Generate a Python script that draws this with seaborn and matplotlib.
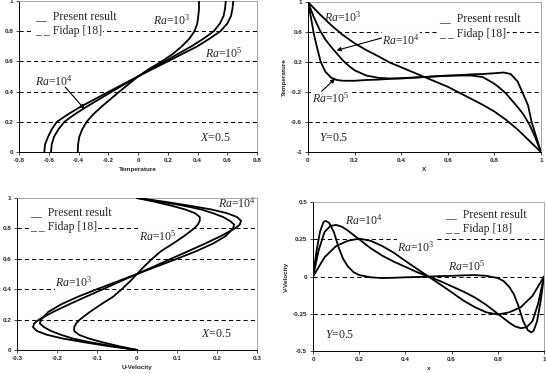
import matplotlib
matplotlib.use("Agg")
import matplotlib.pyplot as plt
import pandas as pd
import seaborn as sns

# ---- data ------------------------------------------------------------------
ra_names = ["Ra=1e3", "Ra=1e4", "Ra=1e5"]

# top left: temperature along Y at X=0.5
tl_y = [0, 0.05, 0.1, 0.15, 0.2, 0.25, 0.3, 0.35, 0.4, 0.45, 0.5,
        0.55, 0.6, 0.65, 0.7, 0.75, 0.8, 0.85, 0.9, 0.95, 1]
tl_inner = [-0.405, -0.403, -0.395, -0.375, -0.345, -0.3, -0.245, -0.185, -0.125, -0.062, 0,
            0.075, 0.16, 0.235, 0.295, 0.345, 0.38, 0.398, 0.405, 0.41, 0.41]
tl_middle = [-0.585, -0.58, -0.565, -0.535, -0.495, -0.425, -0.345, -0.26, -0.175, -0.088, 0,
             0.09, 0.18, 0.27, 0.36, 0.44, 0.51, 0.55, 0.575, 0.585, 0.59]
tl_outer = [-0.63, -0.625, -0.605, -0.58, -0.545, -0.47, -0.385, -0.29, -0.195, -0.098, 0,
            0.1, 0.2, 0.3, 0.4, 0.48, 0.555, 0.6, 0.625, 0.635, 0.64]

# top right: temperature along X at Y=0.5
tr_x3 = [0, 0.05, 0.1, 0.15, 0.2, 0.25, 0.3, 0.35, 0.4, 0.45, 0.5,
         0.55, 0.6, 0.65, 0.7, 0.75, 0.8, 0.85, 0.9, 0.95, 1]
tr_t3 = [1, 0.84, 0.69, 0.56, 0.45, 0.36, 0.28, 0.195, 0.13, 0.065, 0,
         -0.065, -0.13, -0.21, -0.29, -0.37, -0.46, -0.57, -0.7, -0.85, -1]
tr_x4 = [0, 0.025, 0.05, 0.075, 0.1, 0.125, 0.15, 0.175, 0.2, 0.25, 0.3, 0.35, 0.4, 0.45, 0.5,
         0.55, 0.6, 0.65, 0.7, 0.75, 0.8, 0.825, 0.85, 0.875, 0.9, 0.925, 0.95, 0.975, 1]
tr_t4 = [1, 0.8, 0.63, 0.5, 0.4, 0.31, 0.22, 0.15, 0.09, 0.02, -0.01, -0.02, -0.02, -0.01, 0,
         0.01, 0.02, 0.02, 0.02, 0.0, -0.09, -0.15, -0.22, -0.31, -0.4, -0.5, -0.63, -0.8, -1]
tr_x5 = [0, 0.0125, 0.025, 0.04, 0.055, 0.075, 0.1, 0.125, 0.15, 0.2, 0.25, 0.3, 0.35, 0.4, 0.45, 0.5,
         0.55, 0.6, 0.65, 0.7, 0.75, 0.8, 0.84, 0.87, 0.9, 0.92, 0.945, 0.96, 0.975, 0.99, 1]
tr_t5 = [1, 0.8, 0.58, 0.38, 0.2, 0.07, -0.01, -0.04, -0.05, -0.05, -0.04, -0.035, -0.025, -0.015, -0.008, 0,
         0.008, 0.015, 0.025, 0.035, 0.04, 0.05, 0.06, 0.04, -0.06, -0.2, -0.38, -0.6, -0.75, -0.9, -1]

# bottom left: U-velocity along Y at X=0.5
bl_y = [0, 0.025, 0.05, 0.075, 0.1, 0.125, 0.15, 0.175, 0.2, 0.25, 0.3, 0.35, 0.4, 0.45, 0.5,
        0.55, 0.6, 0.65, 0.7, 0.75, 0.8, 0.825, 0.85, 0.875, 0.9, 0.925, 0.95, 0.975, 1]
bl_u3 = [0, -0.06, -0.115, -0.16, -0.19, -0.215, -0.232, -0.243, -0.24, -0.222, -0.19, -0.148, -0.1, -0.05, 0,
         0.05, 0.1, 0.148, 0.19, 0.222, 0.24, 0.243, 0.232, 0.215, 0.19, 0.16, 0.115, 0.06, 0]
bl_u4 = [0, -0.07, -0.13, -0.185, -0.225, -0.25, -0.26, -0.257, -0.245, -0.21, -0.17, -0.128, -0.085, -0.043, 0,
         0.043, 0.085, 0.128, 0.17, 0.21, 0.245, 0.257, 0.26, 0.25, 0.225, 0.185, 0.13, 0.07, 0]
bl_u5 = [0, -0.045, -0.085, -0.12, -0.145, -0.157, -0.157, -0.152, -0.143, -0.118, -0.09, -0.06, -0.038, -0.018, 0,
         0.018, 0.038, 0.06, 0.09, 0.118, 0.143, 0.152, 0.157, 0.157, 0.145, 0.12, 0.085, 0.045, 0]

# bottom right: V-velocity along X at Y=0.5
br_x3 = [0, 0.05, 0.1, 0.15, 0.2, 0.25, 0.3, 0.35, 0.4, 0.45, 0.5,
         0.55, 0.6, 0.65, 0.7, 0.75, 0.8, 0.85, 0.9, 0.95, 1]
br_v3 = [0, 0.13, 0.205, 0.24, 0.255, 0.24, 0.205, 0.16, 0.105, 0.052, 0,
         -0.052, -0.105, -0.16, -0.205, -0.24, -0.255, -0.24, -0.205, -0.13, 0]
br_x4 = [0, 0.025, 0.05, 0.075, 0.1, 0.125, 0.15, 0.2, 0.25, 0.3, 0.35, 0.4, 0.45, 0.5,
         0.55, 0.6, 0.65, 0.7, 0.75, 0.8, 0.85, 0.875, 0.9, 0.925, 0.95, 0.975, 1]
br_v4 = [0, 0.18, 0.3, 0.34, 0.347, 0.335, 0.31, 0.25, 0.19, 0.14, 0.1, 0.065, 0.03, 0,
         -0.03, -0.065, -0.1, -0.14, -0.19, -0.25, -0.31, -0.335, -0.347, -0.34, -0.3, -0.18, 0]
br_x5 = [0, 0.015, 0.03, 0.045, 0.055, 0.07, 0.09, 0.11, 0.13, 0.15, 0.175, 0.2, 0.25, 0.3, 0.35, 0.4, 0.45, 0.5,
         0.55, 0.6, 0.65, 0.7, 0.75, 0.8, 0.825, 0.85, 0.87, 0.89, 0.91, 0.93, 0.945, 0.955, 0.97, 0.985, 1]
br_v5 = [0, 0.17, 0.3, 0.365, 0.375, 0.36, 0.3, 0.2, 0.12, 0.07, 0.03, 0.01, -0.005, -0.01, -0.008, -0.005, -0.003, 0,
         0.003, 0.005, 0.008, 0.01, 0.005, -0.01, -0.03, -0.07, -0.12, -0.2, -0.3, -0.36, -0.375, -0.365, -0.3, -0.17, 0]

# ticks
tl_xticks = [-0.8, -0.6, -0.4, -0.2, 0, 0.2, 0.4, 0.6, 0.8]
tl_xlabels = ["-0.8", "-0.6", "-0.4", "-0.2", "0", "0.2", "0.4", "0.6", "0.8"]
unit_ticks = [0, 0.2, 0.4, 0.6, 0.8, 1]
unit_labels = ["0", "0.2", "0.4", "0.6", "0.8", "1"]
tr_yticks = [-1, -0.6, -0.2, 0.2, 0.6, 1]
tr_ylabels = ["-1", "-0.6", "-0.2", "0.2", "0.6", "1"]
bl_xticks = [-0.3, -0.2, -0.1, 0, 0.1, 0.2, 0.3]
bl_xlabels = ["-0.3", "-0.2", "-0.1", "0", "0.1", "0.2", "0.3"]
br_yticks = [-0.5, -0.25, 0, 0.25, 0.5]
br_ylabels = ["-0.5", "-0.25", "0", "0.25", "0.5"]

sns.set_style("ticks")
plt.rcParams["font.family"] = ["Liberation Sans", "DejaVu Sans"]
plt.rcParams["mathtext.fontset"] = "custom"
plt.rcParams["mathtext.rm"] = "Liberation Serif"
plt.rcParams["mathtext.it"] = "Liberation Serif:italic"

SERIF = ["Liberation Serif", "DejaVu Serif"]


def long_frame(pos_list, val_list):
    rows = []
    for name, pos, val in zip(ra_names, pos_list, val_list):
        for p, v in zip(pos, val):
            rows.append({"pos": p, "val": v, "Ra": name})
    return pd.DataFrame(rows)


def style_axes(ax, xlim, ylim, xt, xl, yt, yl, grid_at, xlabel, ylabel):
    ax.set_xlim(*xlim)
    ax.set_ylim(*ylim)
    ax.set_xticks(xt, xl)
    ax.set_yticks(yt, yl)
    for lab in ax.get_xticklabels() + ax.get_yticklabels():
        lab.set_fontweight("bold")
        lab.set_fontsize(4.6)
    ax.tick_params(length=2.2, width=0.6, pad=2)
    for g in grid_at:
        ax.axhline(g, color="black", lw=0.75, ls=(0, (4, 3)), zorder=1)
    for side in ["left", "bottom"]:
        ax.spines[side].set_color("black")
        ax.spines[side].set_linewidth(0.7)
    for side in ["top", "right"]:
        ax.spines[side].set_visible(True)
        ax.spines[side].set_color("#999999")
        ax.spines[side].set_linewidth(0.6)
    ax.set_xlabel(xlabel, fontsize=4.6, fontweight="bold", labelpad=3)
    ax.set_ylabel(ylabel, fontsize=4.6, fontweight="bold", labelpad=3)


def put_legend(ax, fx, fy1, fy2):
    box = dict(facecolor="white", edgecolor="none", pad=0.5)
    ax.text(fx, fy1, "__  Present result", transform=ax.transAxes, family=SERIF,
            fontsize=8.5, va="center", ha="left", bbox=box, zorder=2.5)
    ax.text(fx, fy2, "_ _ Fidap [18]", transform=ax.transAxes, family=SERIF,
            fontsize=8.5, va="center", ha="left", bbox=box, zorder=2.5)


def label(ax, x, y, s):
    ax.text(x, y, s, family=SERIF, fontsize=8.5, ha="center", va="center", zorder=2.5,
            bbox=dict(facecolor="white", edgecolor="none", pad=0.3))


def arrow(ax, start, end):
    ax.annotate("", xy=end, xytext=start, zorder=4,
                arrowprops=dict(arrowstyle="-|>", color="black", lw=0.8, mutation_scale=6,
                                shrinkA=0, shrinkB=0))


def draw(ax, df, vertical):
    if vertical:
        sns.lineplot(data=df, x="val", y="pos", hue="Ra", palette=["black"] * 3, sort=False,
                     estimator=None, legend=False, lw=1.3, ax=ax, zorder=3)
    else:
        sns.lineplot(data=df, x="pos", y="val", hue="Ra", palette=["black"] * 3, sort=False,
                     estimator=None, legend=False, lw=1.3, ax=ax, zorder=3)


fig = plt.figure(figsize=(5.46, 3.74), dpi=100)
ax_tl = fig.add_axes([0.0348, 0.5936, 0.436, 0.404])
ax_tr = fig.add_axes([0.564, 0.5936, 0.4267, 0.401])
ax_bl = fig.add_axes([0.0311, 0.0642, 0.4396, 0.4064])
ax_br = fig.add_axes([0.5733, 0.0615, 0.423, 0.398])

ra3 = r"$Ra$=10$^{3}$"
ra4 = r"$Ra$=10$^{4}$"
ra5 = r"$Ra$=10$^{5}$"

# top left
draw(ax_tl, long_frame([tl_y, tl_y, tl_y], [tl_inner, tl_middle, tl_outer]), True)
style_axes(ax_tl, (-0.8, 0.8), (0, 1), tl_xticks, tl_xlabels, unit_ticks, unit_labels,
           [0.2, 0.4, 0.6, 0.8], "Temperature", "")
put_legend(ax_tl, 0.067, 0.896, 0.80)
label(ax_tl, 0.228, 0.87, ra3)
label(ax_tl, 0.576, 0.655, ra5)
label(ax_tl, -0.569, 0.47, ra4)
label(ax_tl, 0.52, 0.095, r"$X$=0.5")
arrow(ax_tl, (-0.49, 0.43), (-0.36, 0.285))

# top right
draw(ax_tr, long_frame([tr_x3, tr_x4, tr_x5], [tr_t3, tr_t4, tr_t5]), False)
style_axes(ax_tr, (0, 1), (-1, 1), unit_ticks, unit_labels, tr_yticks, tr_ylabels,
           [-0.6, -0.2, 0.2, 0.6], "X", "Temperature")
put_legend(ax_tr, 0.565, 0.89, 0.79)
label(ax_tr, 0.148, 0.8, ra3)
label(ax_tr, 0.40, 0.49, ra4)
label(ax_tr, 0.097, -0.28, ra5)
label(ax_tr, 0.111, -0.82, r"$Y$=0.5")
arrow(ax_tr, (0.316, 0.52), (0.123, 0.355))
arrow(ax_tr, (0.059, -0.19), (0.116, -0.023))

# bottom left
draw(ax_bl, long_frame([bl_y, bl_y, bl_y], [bl_u3, bl_u4, bl_u5]), True)
style_axes(ax_bl, (-0.3, 0.3), (0, 1), bl_xticks, bl_xlabels, unit_ticks, unit_labels,
           [0.2, 0.4, 0.6, 0.8], "U-Velocity", "")
put_legend(ax_bl, 0.053, 0.908, 0.81)
label(ax_bl, 0.25, 0.965, ra4)
label(ax_bl, 0.051, 0.75, ra5)
label(ax_bl, -0.158, 0.445, ra3)
label(ax_bl, 0.198, 0.105, r"$X$=0.5")

# bottom right
draw(ax_br, long_frame([br_x3, br_x4, br_x5], [br_v3, br_v4, br_v5]), False)
style_axes(ax_br, (0, 1), (-0.5, 0.5), unit_ticks, unit_labels, br_yticks, br_ylabels,
           [-0.25, 0, 0.25], "x", "V-Velocity")
put_legend(ax_br, 0.571, 0.92, 0.817)
label(ax_br, 0.22, 0.38, ra4)
label(ax_br, 0.445, 0.197, ra3)
label(ax_br, 0.665, 0.072, ra5)
label(ax_br, 0.116, -0.395, r"$Y$=0.5")

fig.savefig("out.png", dpi=100)
